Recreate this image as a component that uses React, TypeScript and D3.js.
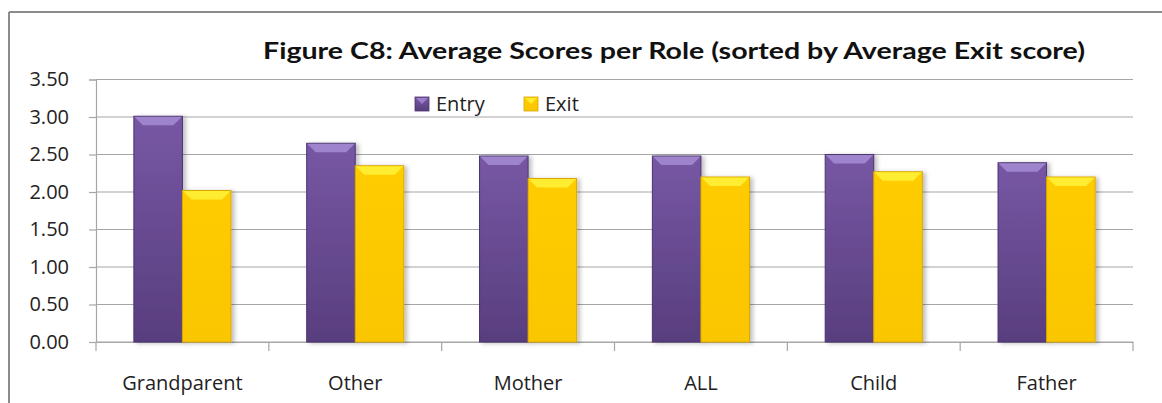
import React, { useEffect, useRef } from 'react';
import * as d3 from 'd3';

// Data
const categories = ['Grandparent', 'Other', 'Mother', 'ALL', 'Child', 'Father'];
const seriesNames = ['Entry', 'Exit'];
const entryValues = [3.01, 2.65, 2.48, 2.48, 2.5, 2.39];
const exitValues = [2.02, 2.35, 2.18, 2.2, 2.27, 2.2];
const yTicks = [0, 0.5, 1, 1.5, 2, 2.5, 3, 3.5];
const titleText = 'Figure C8: Average Scores per Role (sorted by Average Exit score)';

const App = () => {
  const chartRef = useRef<SVGSVGElement | null>(null);

  useEffect(() => {
    const width = 1162;
    const height = 403;
    const margin = { top: 79.5, right: 29, bottom: 61, left: 96 };
    const font = '"Open Sans", "DejaVu Sans", sans-serif';

    const svg = d3.select(chartRef.current);
    svg.selectAll('*').remove();
    svg.attr('width', width).attr('height', height);

    const defs = svg.append('defs');
    const grads = [
      { id: 'gEntry', top: '#7757a4', bottom: '#583e7e' },
      { id: 'gExit', top: '#ffcc00', bottom: '#f9c600' },
    ];
    grads.forEach(g => {
      const lg = defs.append('linearGradient').attr('id', g.id).attr('x1', 0).attr('y1', 0).attr('x2', 0).attr('y2', 1);
      lg.append('stop').attr('offset', '0%').attr('stop-color', g.top);
      lg.append('stop').attr('offset', '100%').attr('stop-color', g.bottom);
    });
    const shadow = defs.append('filter').attr('id', 'shadow').attr('x', '-20%').attr('y', '-10%').attr('width', '150%').attr('height', '130%');
    shadow.append('feDropShadow').attr('dx', 3).attr('dy', 1).attr('stdDeviation', 2).attr('flood-color', '#000').attr('flood-opacity', 0.25);

    const colors = [
      { fill: 'url(#gEntry)', bevel: '#a68cd4', edge: '#4b3470' },
      { fill: 'url(#gExit)', bevel: '#fff23a', edge: '#d9a800' },
    ];

    svg.append('rect').attr('width', width).attr('height', height).attr('fill', '#fff');

    // outer frame (top and left edges visible)
    svg.append('line').attr('x1', 9).attr('x2', width).attr('y1', 12).attr('y2', 12)
      .attr('stroke', '#8c8c8c').attr('stroke-width', 2);
    svg.append('line').attr('x1', 9).attr('x2', 9).attr('y1', 12).attr('y2', height)
      .attr('stroke', '#8c8c8c').attr('stroke-width', 2);

    const x0 = d3.scaleBand().domain(categories).range([margin.left, width - margin.right]).padding(0);
    const x1 = d3.scaleBand().domain(seriesNames).range([0, x0.bandwidth()]).paddingInner(0).paddingOuter(0.78);
    const y = d3.scaleLinear().domain([0, 3.5]).range([height - margin.bottom, margin.top]);

    // gridlines
    svg.append('g').selectAll('line').data(yTicks).enter().append('line')
      .attr('x1', margin.left).attr('x2', width - margin.right)
      .attr('y1', d => y(d)).attr('y2', d => y(d))
      .attr('stroke', '#a6a6a6').attr('stroke-width', 1.2);

    // y axis
    const yAxis = svg.append('g').attr('transform', `translate(${margin.left},0)`)
      .call(d3.axisLeft(y).tickValues(yTicks).tickFormat(d3.format('.2f')).tickSize(7).tickPadding(20));
    yAxis.select('.domain').attr('stroke', '#a6a6a6').attr('stroke-width', 1.2);
    yAxis.selectAll('.tick line').attr('stroke', '#a6a6a6').attr('stroke-width', 1.2);
    yAxis.selectAll('.tick text').attr('font-family', font).attr('font-size', 20).attr('fill', '#222');

    // x axis
    const xAxis = svg.append('g').attr('transform', `translate(0,${y(0)})`)
      .call(d3.axisBottom(x0).tickSize(0).tickPadding(34));
    xAxis.select('.domain').attr('stroke', '#a6a6a6').attr('stroke-width', 1.2);
    xAxis.selectAll('.tick text').attr('font-family', font).attr('font-size', 20).attr('fill', '#222');
    const bounds = categories.map(c => x0(c) as number).concat([width - margin.right]);
    xAxis.selectAll('line.sep').data(bounds).enter().append('line').attr('class', 'sep')
      .attr('x1', d => d).attr('x2', d => d).attr('y1', 0).attr('y2', 9)
      .attr('stroke', '#a6a6a6').attr('stroke-width', 1.2);

    // bars
    const rows = categories.map((c, i) => ({ c, vals: [entryValues[i], exitValues[i]] }));
    const groups = svg.append('g').selectAll('g').data(rows).enter().append('g')
      .attr('transform', d => `translate(${x0(d.c)},0)`);
    seriesNames.forEach((s, si) => {
      const bw = x1.bandwidth();
      const bx = x1(s) as number;
      groups.append('rect')
        .attr('x', bx).attr('width', bw)
        .attr('y', d => y(d.vals[si])).attr('height', d => y(0) - y(d.vals[si]))
        .attr('fill', colors[si].fill).attr('stroke', colors[si].edge).attr('stroke-width', 1)
        .attr('filter', 'url(#shadow)');
      // top bevel
      groups.append('path')
        .attr('d', d => {
          const t = y(d.vals[si]);
          const b = 9;
          return `M${bx + 0.5},${t + 0.5}L${bx + bw - 0.5},${t + 0.5}L${bx + bw - b},${t + b}L${bx + b},${t + b}Z`;
        })
        .attr('fill', colors[si].bevel).attr('opacity', 0.85);
    });

    // title
    svg.append('text').attr('x', 263).attr('y', 59).text(titleText)
      .attr('font-family', 'Lato, "Open Sans", sans-serif').attr('font-weight', 'bold').attr('font-size', 22)
      .attr('textLength', 822).attr('lengthAdjust', 'spacingAndGlyphs').attr('fill', '#111');

    // legend
    const legendX = [415, 524];
    seriesNames.forEach((s, i) => {
      svg.append('rect').attr('x', legendX[i]).attr('y', 97).attr('width', 14).attr('height', 14)
        .attr('fill', colors[i].fill).attr('stroke', colors[i].edge).attr('stroke-width', 0.8);
      svg.append('path')
        .attr('d', `M${legendX[i] + 1},${98}L${legendX[i] + 13},${98}L${legendX[i] + 7},${104}Z`)
        .attr('fill', colors[i].bevel).attr('opacity', 0.8);
      svg.append('text').attr('x', legendX[i] + 21).attr('y', 111).text(s)
        .attr('font-family', font).attr('font-size', 20).attr('fill', '#222');
    });
  }, []);

  return (
    <svg ref={chartRef} style={{ position: 'absolute', left: 0, top: 0, display: 'block' }} />
  );
};

export default App;
